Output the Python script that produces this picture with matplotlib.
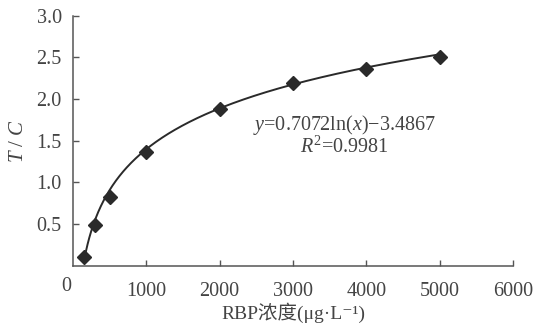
import numpy as np
import matplotlib
matplotlib.use("Agg")
import matplotlib.pyplot as plt

conc = [150, 300, 500, 1000, 2000, 3000, 4000, 5000]
ratio = [0.11, 0.49, 0.83, 1.37, 1.88, 2.19, 2.36, 2.51]
fit_a = 0.7072
fit_b = -3.4867
r2 = 0.9981
xticks = [1000, 2000, 3000, 4000, 5000, 6000]
yticks = [0.5, 1.0, 1.5, 2.0, 2.5, 3.0]

fam = ['Liberation Serif', 'Noto Sans CJK SC', 'DejaVu Sans']
plt.rcParams['font.family'] = fam
plt.rcParams['mathtext.fontset'] = 'custom'
plt.rcParams['mathtext.rm'] = 'Liberation Serif'
plt.rcParams['mathtext.it'] = 'Liberation Serif:italic'

col = '#2a2a2a'
tcol = '#444444'
fs = 14.5
fig = plt.figure(figsize=(5.35, 3.28), dpi=100)
ax = fig.add_axes([0.1364, 0.19, 0.8226, 0.762])

xs = np.linspace(min(conc), max(conc), 400)
ax.plot(xs, fit_a * np.log(xs) + fit_b, color=col, lw=1.4, zorder=2)
ax.plot(conc, ratio, linestyle='none', marker='D', markersize=7, color=col, zorder=3)

ax.set_xlim(0, 6000)
ax.set_ylim(0, 3.0)
ax.set_xticks(xticks)
ax.set_xticklabels([str(t) for t in xticks])
ax.set_yticks(yticks)
ax.set_yticklabels([f'{t:.1f}' for t in yticks])
for s in ['top', 'right']:
    ax.spines[s].set_visible(False)
for s in ['left', 'bottom']:
    ax.spines[s].set_color('#555555')
    ax.spines[s].set_linewidth(1.1)
ax.tick_params(direction='in', length=4, width=1.0, colors='#555555',
               labelcolor=tcol, labelsize=fs)
ax.tick_params(axis='x', pad=12)
ax.tick_params(axis='y', pad=8)

ax.text(-0.005, -0.045, '0', transform=ax.transAxes, ha='right', va='top',
        fontsize=fs, color=tcol)

ax.set_ylabel('$T$ / $C$', fontsize=15, color=tcol, labelpad=6)
ax.set_xlabel('RBP浓度(μg·L⁻¹)', fontsize=14, color=tcol, labelpad=1)

eq = f'$y$={fit_a}ln($x$)−{abs(fit_b)}\n$R^2$={r2}'
ax.text(3700, 1.565, eq, ha='center', va='center', multialignment='center',
        linespacing=1.0, fontsize=fs, color=tcol)

fig.savefig('out.png', dpi=100)
